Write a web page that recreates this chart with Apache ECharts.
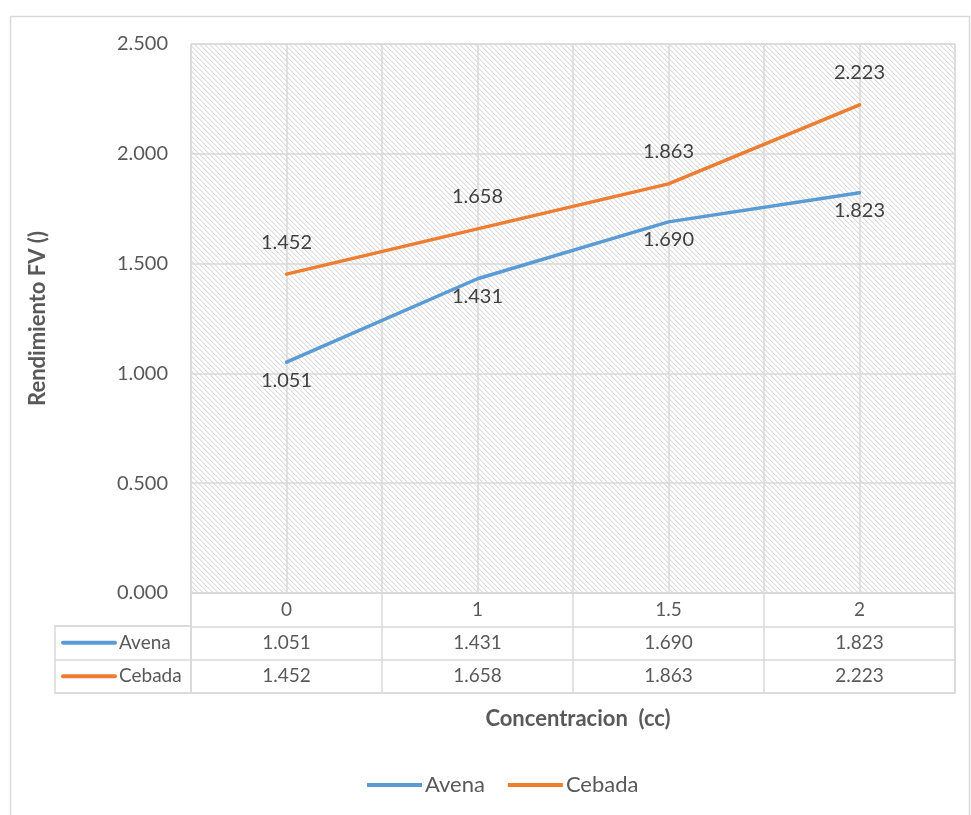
<!DOCTYPE html>
<html>
<head>
<meta charset="utf-8">
<script src="https://cdn.jsdelivr.net/npm/echarts@6/dist/echarts.min.js"></script>
<style>html,body{margin:0;padding:0;background:#fff;}#c{width:971px;height:815px;}</style>
</head>
<body>
<div id="c"></div>
<script>
const categories = ['0', '1', '1.5', '2'];
const avena = [1.051, 1.431, 1.690, 1.823];
const cebada = [1.452, 1.658, 1.863, 2.223];
const yTicks = { min: 0, max: 2.5, interval: 0.5 };
const seriesNames = ['Avena', 'Cebada'];
const seriesColors = ['#5B9BD5', '#ED7D31'];
const xTitle = 'Concentracion  (cc)';
const yTitle = 'Rendimiento FV ()';

const FONT = 'Lato, "Open Sans", sans-serif';

// hatch pattern
const P = 5;
const pc = document.createElement('canvas');
pc.width = P; pc.height = P;
const ctx = pc.getContext('2d');
ctx.fillStyle = '#ffffff'; ctx.fillRect(0, 0, P, P);
for (let i = 0; i < P; i++) {
  ctx.fillStyle = '#dddddd'; ctx.fillRect(i, i, 1, 1);
  ctx.fillStyle = '#efefef'; ctx.fillRect((i + 1) % P, i, 1, 1);
}

const allValues = [avena, cebada];
const tableRows = ['hdr'].concat(seriesNames);

// table cell texts
const cellData = [], cellText = [];
categories.forEach((c, i) => { cellData.push([i, 0]); cellText.push(c); });
allValues.forEach((arr, s) => arr.forEach((v, i) => { cellData.push([i, s + 1]); cellText.push(v.toFixed(3)); }));

const chart = echarts.init(document.getElementById('c'));
chart.setOption({
  animation: false,
  backgroundColor: '#ffffff',
  textStyle: { fontFamily: FONT },
  graphic: [{
    type: 'rect', left: 8, top: 14, silent: true,
    shape: { width: 959, height: 820 },
    style: { fill: 'none', stroke: '#d9d9d9', lineWidth: 1.5 }
  }],
  title: {
    text: xTitle, left: 573, top: 703, textAlign: 'center',
    textStyle: { fontFamily: FONT, fontSize: 22, fontWeight: 'bold', color: '#595959' }
  },
  legend: {
    data: seriesNames, bottom: 14, left: 362,
    icon: 'rect', itemWidth: 55, itemHeight: 4, itemGap: 23,
    textStyle: { fontFamily: FONT, fontSize: 22, color: '#595959', padding: [0, 0, 0, -2] }
  },
  grid: [
    { left: 191, top: 44, width: 764, height: 549, show: true, borderColor: '#d9d9d9', borderWidth: 1,
      backgroundColor: { image: pc, repeat: 'repeat' } },
    { left: 191, top: 593, width: 764, height: 100, show: true, borderColor: '#d9d9d9', borderWidth: 1.5, backgroundColor: '#fff' },
    { left: 55, top: 626, width: 136, height: 67, show: true, borderColor: '#d9d9d9', borderWidth: 1.5, backgroundColor: '#fff' }
  ],
  xAxis: [
    { type: 'category', gridIndex: 0, data: categories, boundaryGap: true,
      axisLine: { show: true, lineStyle: { color: '#d9d9d9' } }, axisTick: { show: false },
      axisLabel: { show: false }, splitLine: { show: false } },
    { type: 'value', gridIndex: 0, position: 'top', min: 0, max: categories.length * 2, interval: 1,
      axisLine: { show: false }, axisTick: { show: false }, axisLabel: { show: false },
      splitLine: { show: true, lineStyle: { color: '#d9d9d9', width: 1.5 } } },
    { type: 'category', gridIndex: 1, data: categories, boundaryGap: true,
      axisLine: { show: false }, axisTick: { show: false }, axisLabel: { show: false },
      splitLine: { show: true, lineStyle: { color: '#d9d9d9', width: 1.5 } } },
    { type: 'value', gridIndex: 2, min: 0, max: 1, show: false }
  ],
  yAxis: [
    { type: 'value', gridIndex: 0, min: yTicks.min, max: yTicks.max, interval: yTicks.interval,
      name: yTitle, nameLocation: 'middle', nameGap: 142,
      nameTextStyle: { fontFamily: FONT, fontSize: 22, fontWeight: 'bold', color: '#595959' },
      axisLine: { show: false }, axisTick: { show: false },
      axisLabel: { margin: 23, fontFamily: FONT, fontSize: 20, color: '#595959', formatter: v => v.toFixed(3) },
      splitLine: { show: true, lineStyle: { color: '#d9d9d9', width: 1.5 } } },
    { type: 'category', gridIndex: 1, data: tableRows, inverse: true, boundaryGap: true,
      axisLine: { show: false }, axisTick: { show: false }, axisLabel: { show: false },
      splitLine: { show: true, lineStyle: { color: '#d9d9d9', width: 1.5 } } },
    { type: 'category', gridIndex: 2, data: seriesNames, inverse: true, boundaryGap: true,
      axisLine: { show: false }, axisTick: { show: false }, axisLabel: { show: false },
      splitLine: { show: true, lineStyle: { color: '#d9d9d9', width: 1.5 } } }
  ],
  series: [
    { name: seriesNames[0], type: 'line', xAxisIndex: 0, yAxisIndex: 0, data: avena,
      showSymbol: true, symbol: 'circle', symbolSize: 0.01, color: seriesColors[0], lineStyle: { width: 3.5, cap: 'round' },
      label: { show: true, position: 'bottom', distance: 8, fontFamily: FONT, fontSize: 20, color: '#404040',
        formatter: p => p.value.toFixed(3) } },
    { name: seriesNames[1], type: 'line', xAxisIndex: 0, yAxisIndex: 0, data: cebada,
      showSymbol: true, symbol: 'circle', symbolSize: 0.01, color: seriesColors[1], lineStyle: { width: 3.5, cap: 'round' },
      label: { show: true, position: 'top', distance: 22, fontFamily: FONT, fontSize: 20, color: '#404040',
        formatter: p => p.value.toFixed(3) } },
    { type: 'custom', xAxisIndex: 2, yAxisIndex: 1, data: cellData, silent: true,
      renderItem: (params, api) => {
        const p = api.coord([api.value(0), api.value(1)]);
        return { type: 'text', x: p[0], y: p[1],
          style: { text: cellText[params.dataIndex], align: 'center', verticalAlign: 'middle',
            font: '19px ' + FONT, fill: '#595959' } };
      } },
    { type: 'custom', xAxisIndex: 3, yAxisIndex: 2, data: seriesNames.map((n, i) => [0, i]), silent: true,
      renderItem: (params, api) => {
        const p = api.coord([0, api.value(1)]);
        const x0 = params.coordSys.x;
        const idx = params.dataIndex;
        return { type: 'group', children: [
          { type: 'line', shape: { x1: x0 + 8, y1: p[1], x2: x0 + 60, y2: p[1] },
            style: { stroke: seriesColors[idx], lineWidth: 4, lineCap: 'round' } },
          { type: 'text', x: x0 + 64, y: p[1],
            style: { text: seriesNames[idx], align: 'left', verticalAlign: 'middle', font: '19px ' + FONT, fill: '#595959' } }
        ] };
      } }
  ]
});
</script>
</body>
</html>
